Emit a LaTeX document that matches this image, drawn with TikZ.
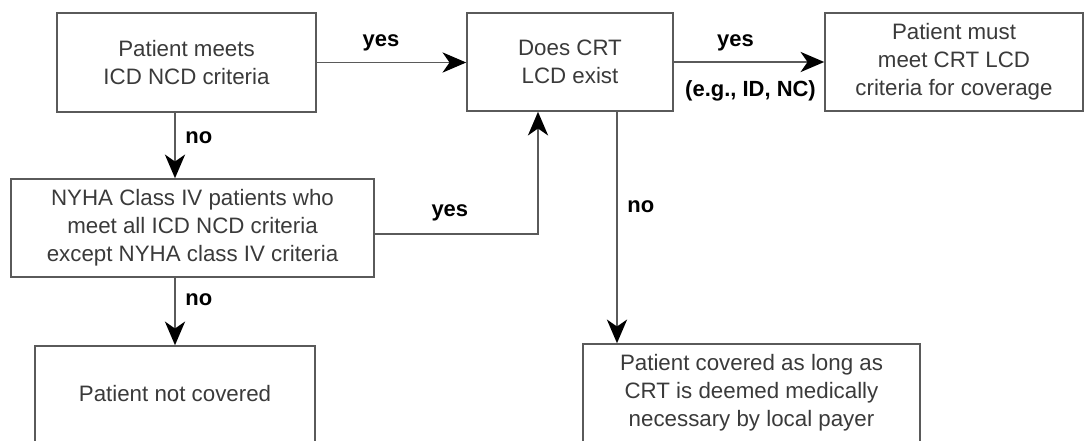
\documentclass[tikz,border=0pt]{standalone}
\usepackage{fontspec}
\setmainfont{Liberation Sans}
\usepackage{xcolor}
\usepackage{tikz}
\usetikzlibrary{arrows.meta}

\definecolor{boxline}{HTML}{5A5A5A}
\definecolor{boxtext}{HTML}{3A3A3A}

\begin{document}
\begin{tikzpicture}[
    x=0.02cm, y=-0.02cm,
    box/.style={draw=boxline,line width=0.9pt,rectangle,inner sep=0pt,align=center,
      text=boxtext,font=\fontsize{12.7}{15.9}\selectfont},
    lbl/.style={font=\bfseries\fontsize{12.5}{15}\selectfont,text=black,inner sep=2pt},
    arr/.style={draw=boxline,line width=0.9pt,
      -{Stealth[length=13.5pt,width=11.5pt,inset=4pt,color=black]}}
  ]
    \useasboundingbox (0,0) rectangle (1085,440);

    \node[box,minimum width=5.18cm,minimum height=1.98cm] (meets) at (186.5,62.5)
      {Patient meets\\ICD NCD criteria};
    \node[box,minimum width=4.12cm,minimum height=1.96cm] (lcd) at (570,62)
      {Does CRT\\LCD exist};
    \node[box,minimum width=5.16cm,minimum height=1.96cm] (must) at (954,62)
      {Patient must\\meet CRT LCD\\criteria for coverage};
    \node[box,minimum width=7.26cm,minimum height=1.96cm] (nyha) at (192.5,228)
      {NYHA Class IV patients who\\meet all ICD NCD criteria\\except NYHA class IV criteria};
    \node[box,minimum width=5.6cm,minimum height=1.92cm] (notcov) at (175,394)
      {Patient not covered};
    \node[box,minimum width=6.74cm,minimum height=1.96cm] (covered) at (751.5,393)
      {Patient covered as long as\\CRT is deemed medically\\necessary by local payer};

    \coordinate (lcdout) at ([xshift=0.94cm]lcd.south);

    \draw[arr] (meets.east) -- node[lbl,pos=0.43,above=4pt] {yes} (meets.east -| lcd.west);
    \draw[arr] (lcd.east) -- node[lbl,pos=0.41,above=4pt] {yes}
      node[lbl,pos=0.51,below=8pt] {(e.g., ID, NC)} (must.west);
    \draw[arr] (meets.south -| notcov.north) -- node[lbl,pos=0.38,right=3.5pt] {no}
      (nyha.north -| notcov.north);
    \draw[arr] (nyha.south -| notcov.north) -- node[lbl,pos=0.33,right=3.5pt] {no}
      (notcov.north);
    \draw[arr] ([yshift=-0.12cm]nyha.east) -| node[lbl,pos=0.23,above=5pt] {yes}
      ([xshift=-0.64cm]lcd.south);
    \draw[arr] (lcdout) -- node[lbl,pos=0.41,right=3.5pt] {no} (lcdout |- covered.north);
  \end{tikzpicture}
\end{document}
